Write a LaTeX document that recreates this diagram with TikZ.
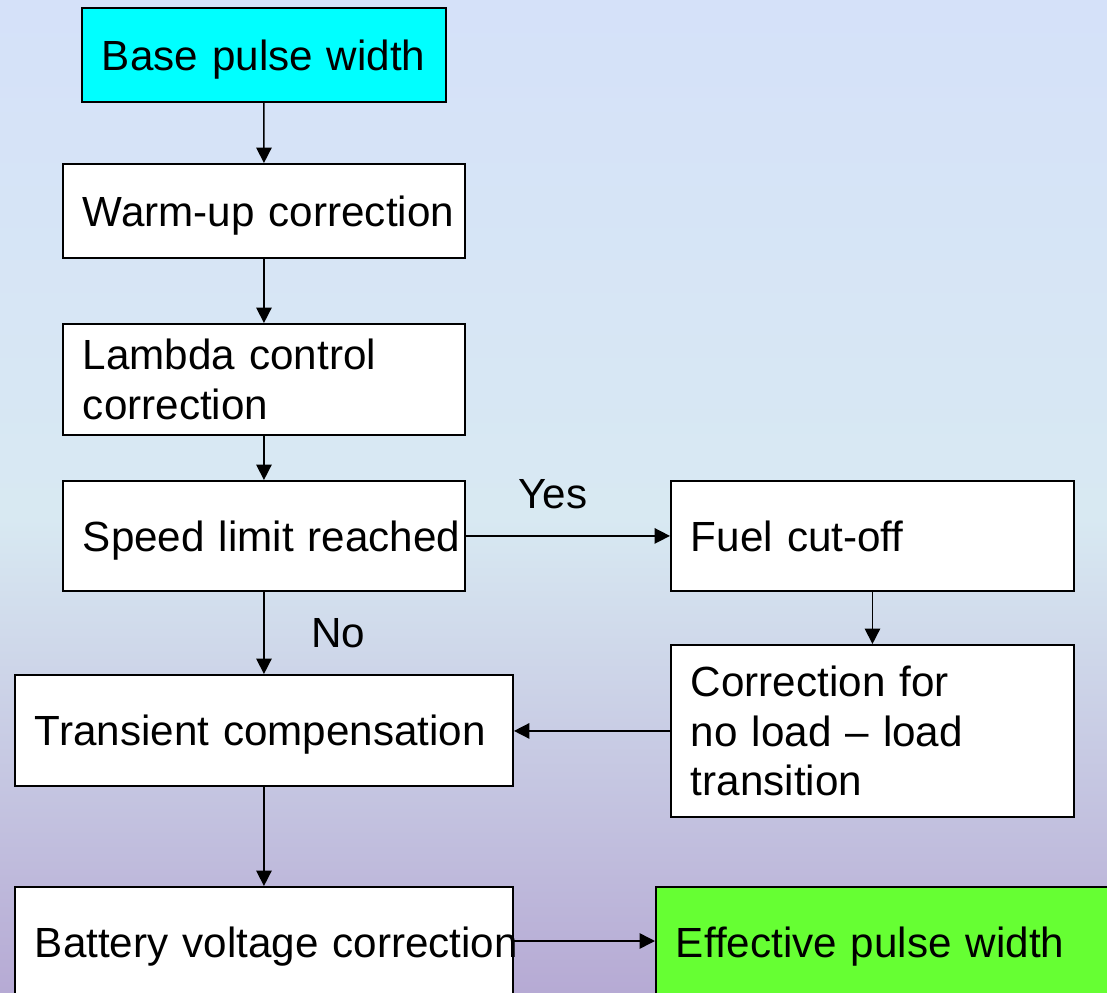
\documentclass[tikz,border=0pt]{standalone}
\usepackage{fontspec}
\setmainfont{Liberation Sans}
\usepackage{xcolor}
\usetikzlibrary{positioning, arrows.meta}
\definecolor{bgtop}{RGB}{213,225,249}
\definecolor{bgmid}{RGB}{216,233,242}
\definecolor{bgbot}{RGB}{182,170,212}
\definecolor{startfill}{RGB}{0,255,255}
\definecolor{endfill}{RGB}{102,255,51}
\newcommand{\flowfont}{\fontsize{30}{35.5}\selectfont}
\tikzset{
  flowbox/.style={
    rectangle, draw=black, line width=1.3pt,
    fill=white, anchor=north west,
    inner xsep=0.5cm, inner ysep=0pt,
    align=left, font=\flowfont
  },
  flowbox-line/.style={flowbox, text depth=0pt},
  flowarrow/.style={
    -{Triangle[length=11pt, width=11pt]}, draw=black, line width=1.1pt
  },
  flowlabel/.style={font=\flowfont, inner sep=0pt}
}

\begin{document}
\begin{tikzpicture}[x=0.025cm, y=-0.025cm]
  % background
  \clip (0,0) rectangle (1107,993);
  \shade[top color=bgtop, bottom color=bgmid] (0,0) rectangle (1107,520);
  \shade[top color=bgmid, bottom color=bgbot] (0,519) rectangle (1107,993);

  \node[flowbox-line, fill=startfill, text width=8.1cm, minimum height=2.35cm] (base) at (81,7) {\mbox{Base pulse width}};
  \node[flowbox-line, text width=9.05cm, minimum height=2.35cm] (warmup) at (62,163) {\mbox{Warm-up correction}};
  \node[flowbox, text width=9.05cm, minimum height=2.78cm] (lambda) at (62,323) {Lambda control\\correction};
  \node[flowbox-line, text width=9.05cm, minimum height=2.75cm] (speed) at (62,480) {\mbox{Speed limit reached}};
  \node[flowbox-line, text width=9.075cm, minimum height=2.75cm] (cutoff) at (670,480) {Fuel cut-off};
  \node[flowbox, text width=9.075cm, minimum height=4.3cm] (noload) at (670,644) {Correction for\\no load -- load\\transition};
  \node[flowbox-line, text width=11.45cm, minimum height=2.78cm] (transient) at (14,674) {\mbox{Transient compensation}};
  \node[flowbox-line, text width=11.45cm, minimum height=2.78cm] (battery) at (14,886) {\mbox{Battery voltage correction}};
  \node[flowbox-line, fill=endfill, text width=11.5cm, minimum height=2.78cm] (effective) at (655,886) {\mbox{Effective pulse width}};

  \node[flowlabel] (yes) at (553,494) {Yes};
  \node[flowlabel] (no) at (338,633) {No};

  \draw[flowarrow] (base) -- (warmup);
  \draw[flowarrow] (warmup.south -| base) -- (lambda.north -| base);
  \draw[flowarrow] (lambda.south -| base) -- (speed.north -| base);
  \draw[flowarrow] (speed.south -| base) -- (transient.north -| base);
  \draw[flowarrow] (speed) -- (cutoff);
  \draw[flowarrow] (cutoff) -- (noload);
  \draw[flowarrow] (noload) -- (noload -| transient.east);
  \draw[flowarrow] (transient.south -| base) -- (battery.north -| base);
  \draw[flowarrow] (battery.east |- 0,941) -- (effective.west |- 0,941);
\end{tikzpicture}
\end{document}
